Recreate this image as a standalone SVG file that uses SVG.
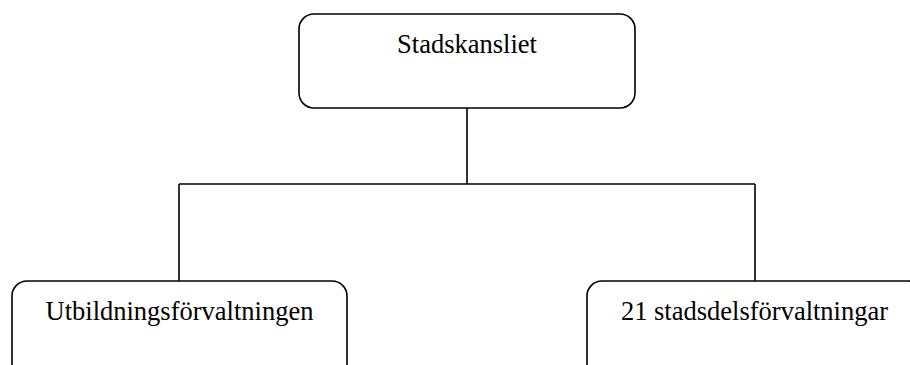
<svg xmlns="http://www.w3.org/2000/svg" width="910" height="365" viewBox="0 0 910 365">
<style>
.box{fill:#fff;stroke:#000;stroke-width:1.6}
.lbl{font-family:"Liberation Serif","Times New Roman",serif;font-size:26.5px;fill:#000;text-anchor:middle}
.con{fill:none;stroke:#000;stroke-width:1.6}
</style>
<rect width="910" height="365" fill="#fff"/>
<g id="connectors">
<path class="con" d="M467 108 V184 M179 184 H755 M179 184 V281 M755 184 V281"/>
</g>
<g id="stadskansliet">
<rect class="box" x="299" y="14" width="336" height="94" rx="15" ry="15"/>
<text class="lbl" x="467" y="53">Stadskansliet</text>
</g>
<g id="utbildningsforvaltningen">
<rect class="box" x="12" y="281" width="335" height="110" rx="15" ry="15"/>
<text class="lbl" x="179.5" y="320">Utbildningsförvaltningen</text>
</g>
<g id="stadsdelsforvaltningar">
<rect class="box" x="587" y="281" width="336" height="110" rx="15" ry="15"/>
<text class="lbl" x="754.5" y="320">21 stadsdelsförvaltningar</text>
</g>
</svg>
